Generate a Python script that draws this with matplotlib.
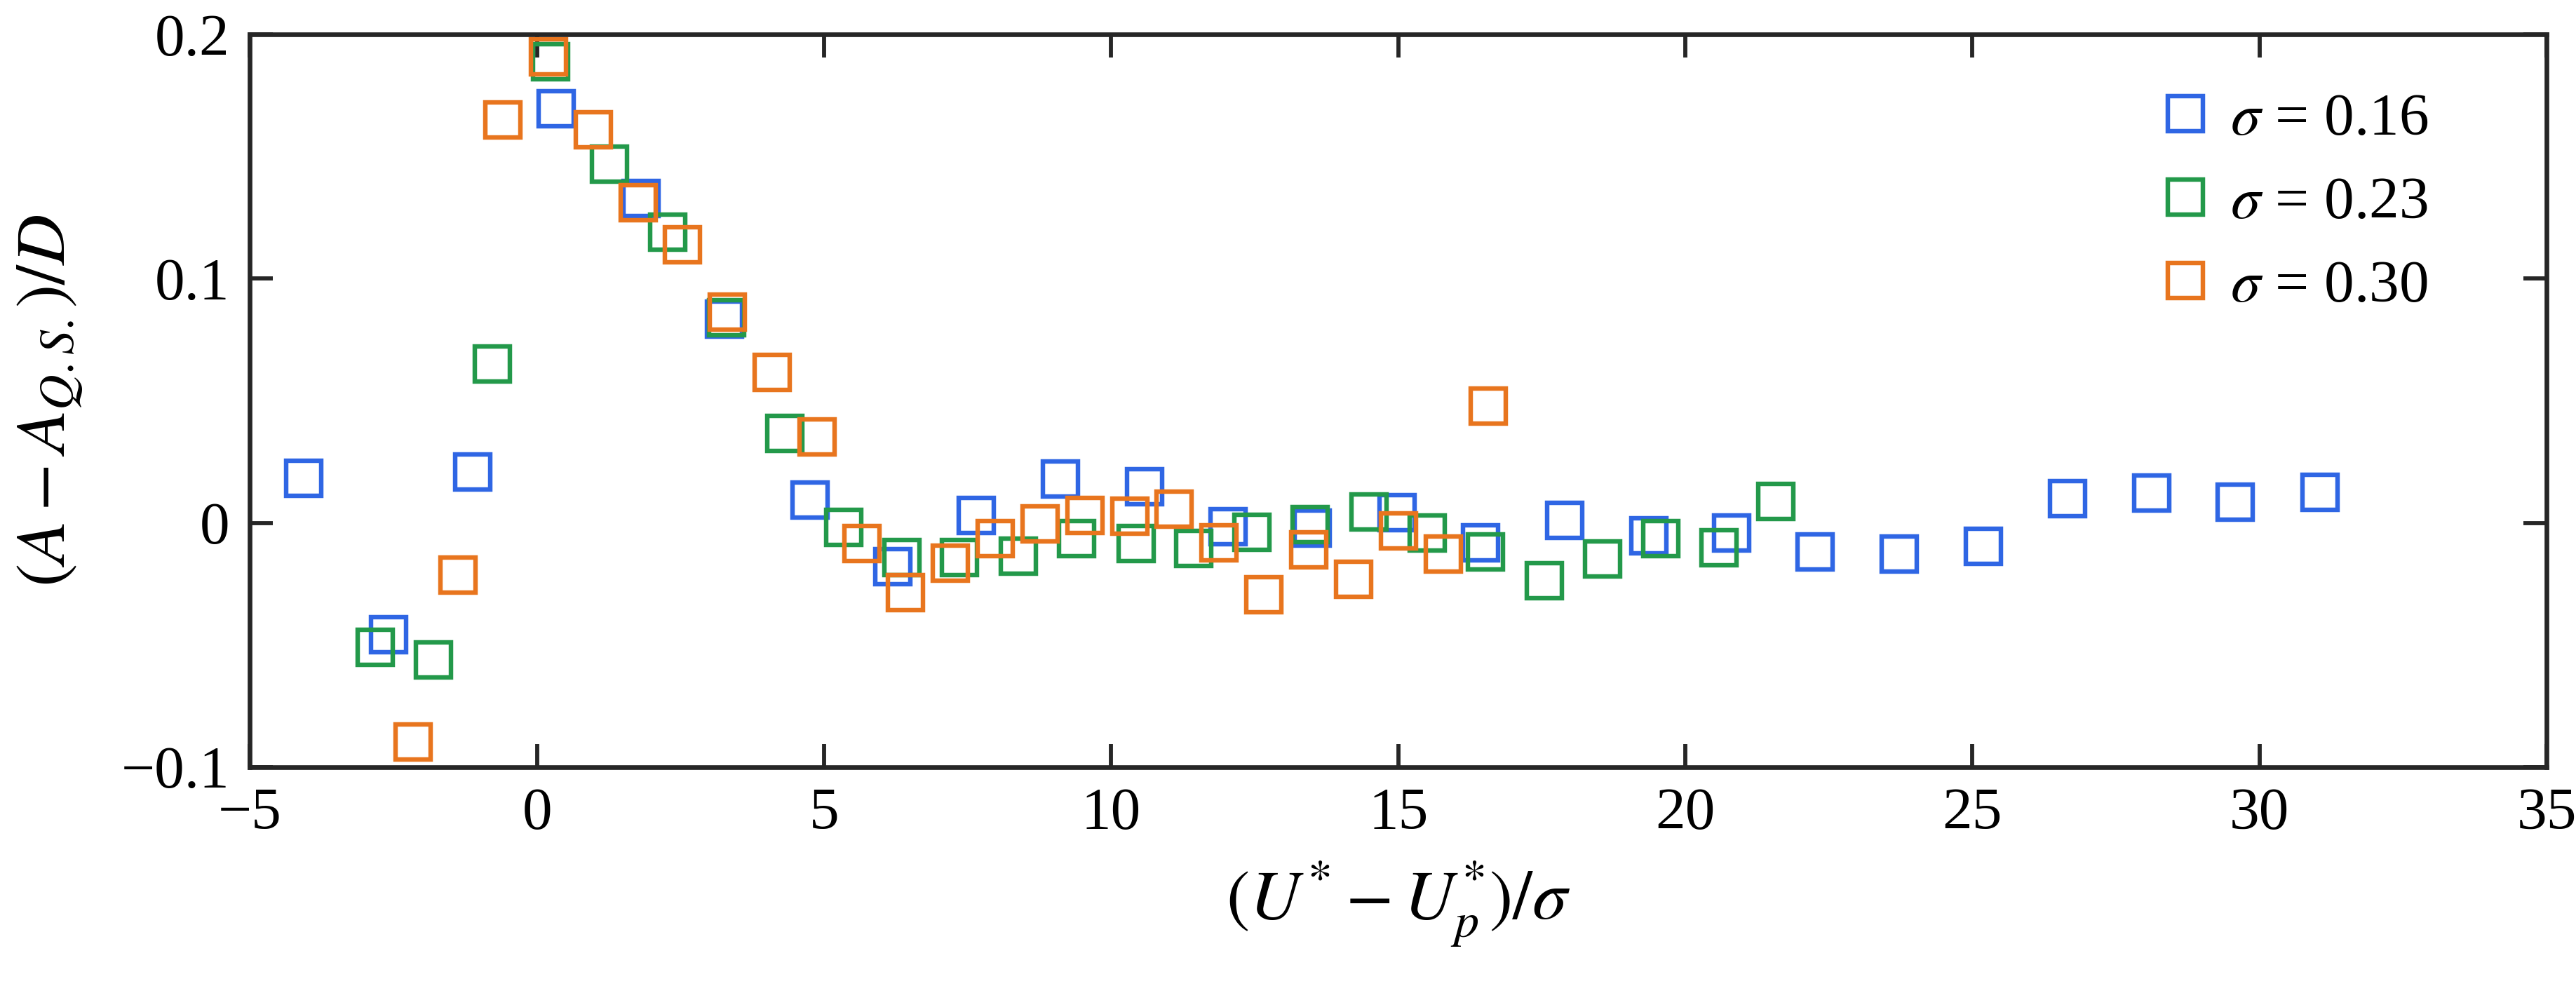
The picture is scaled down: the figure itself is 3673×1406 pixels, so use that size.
import numpy as np
import matplotlib
matplotlib.use('Agg')
import matplotlib.pyplot as plt

plt.rcParams['font.family'] = ['Liberation Serif', 'DejaVu Serif']
plt.rcParams['mathtext.fontset'] = 'stix'

# sigma = 0.16
x_016 = [-4.06, -2.58, -1.12, 0.34, 1.81, 3.27, 4.75, 6.20, 7.65, 9.12, 10.58, 12.04, 13.50,
         14.98, 16.43, 17.90, 19.36, 20.81, 22.26, 23.72, 25.19, 26.65, 28.12, 29.58, 31.05]
y_016 = [0.0183, -0.0457, 0.0208, 0.1695, 0.133, 0.0836, 0.0095, -0.018, 0.0032, 0.0179, 0.0147,
         -0.0015, -0.002, 0.0042, -0.008, 0.001, -0.0053, -0.0042, -0.012, -0.0126, -0.0095,
         0.0099, 0.0122, 0.0084, 0.0126]

# sigma = 0.23
x_023 = [-2.82, -1.80, -0.78, 0.24, 1.26, 2.28, 3.30, 4.32, 5.34, 6.35, 7.36, 8.38, 9.40,
         10.43, 11.44, 12.45, 13.47, 14.49, 15.51, 16.52, 17.54, 18.56, 19.57, 20.59, 21.58]
y_023 = [-0.051, -0.056, 0.065, 0.189, 0.147, 0.119, 0.084, 0.0368, -0.0017, -0.0143, -0.0143,
         -0.0137, -0.0063, -0.0084, -0.0105, -0.0038, -0.0006, 0.0046, -0.0042, -0.012, -0.0236,
         -0.0147, -0.0063, -0.0101, 0.0088]

# sigma = 0.30
x_030 = [-2.16, -1.38, -0.59, 0.20, 0.98, 1.76, 2.53, 3.31, 4.10, 4.88, 5.66, 6.42, 7.20,
         7.98, 8.76, 9.54, 10.32, 11.10, 11.88, 12.66, 13.44, 14.22, 15.00, 15.79, 16.57]
y_030 = [-0.0897, -0.0213, 0.165, 0.191, 0.161, 0.131, 0.114, 0.0863, 0.0617, 0.0352, -0.0084,
         -0.0284, -0.0164, -0.0063, -0.0004, 0.0032, 0.0027, 0.0057, -0.008, -0.0295, -0.0109,
         -0.0232, -0.0032, -0.0126, 0.048]

labels = [r'$\sigma$ = 0.16', r'$\sigma$ = 0.23', r'$\sigma$ = 0.30']
colors = ['#2f66e4', '#23994a', '#e8751e']

fig = plt.figure(figsize=(3673 / 300, 1406 / 300), dpi=300)
ax = fig.add_axes([0.097, 0.222, 0.8916, 0.743])

for xs, ys, lab, c in zip([x_016, x_023, x_030], [y_016, y_023, y_030], labels, colors):
    ax.plot(xs, ys, linestyle='none', marker='s', markersize=12, markerfacecolor='none',
            markeredgecolor=c, markeredgewidth=1.55, label=lab)

ax.set_xlim(-5, 35)
ax.set_ylim(-0.1, 0.2)
ax.set_xticks(np.arange(-5, 36, 5))
ax.set_xticklabels(['\u22125'] + [str(v) for v in range(0, 36, 5)])
ax.set_yticks([-0.1, 0, 0.1, 0.2])
ax.set_yticklabels(['\u22120.1', '0', '0.1', '0.2'])

for s in ax.spines.values():
    s.set_linewidth(1.6)
    s.set_color('#262626')
ax.tick_params(direction='in', length=8, width=1.4, color='#262626', top=True, right=True,
               labelsize=20.5, pad=7)

ax.set_xlabel(r'$(U^{*} - U_{p}^{*})/\sigma$', fontsize=24, labelpad=6)
ax.set_ylabel(r'$(A - A_{Q.S.})/D$', fontsize=24, labelpad=12)

ax.legend(loc='upper left', frameon=False, fontsize=20.5, handletextpad=0.15, handlelength=1.2,
          labelspacing=0.48, borderaxespad=0.0, bbox_to_anchor=(0.8165, 0.953))

fig.savefig('out.png', dpi=300)
